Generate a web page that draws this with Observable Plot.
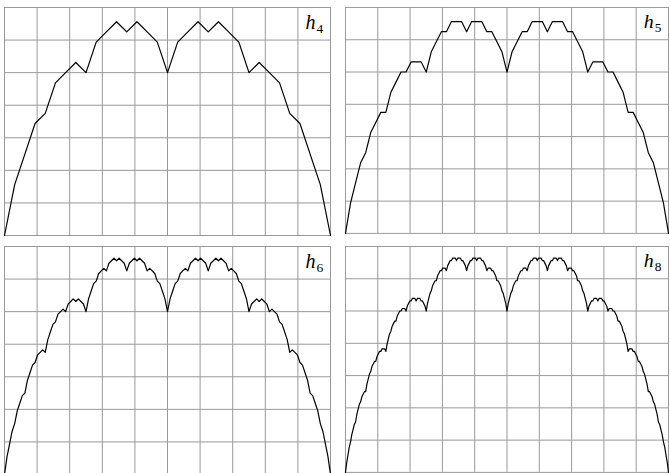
<!DOCTYPE html>
<html><head><meta charset="utf-8">
<script src="https://cdn.jsdelivr.net/npm/d3@7"></script>
<script src="https://cdn.jsdelivr.net/npm/@observablehq/plot@0.6"></script>
<style>
html,body{margin:0;padding:0;background:#fff;overflow:hidden}
#wrap{position:relative;width:670px;height:473px;overflow:hidden;background:#fff}
.panel{position:absolute}
.panel svg{display:block}
</style></head><body><div id="wrap"></div>
<script>
// grid tick values
const xTicks = [0, 0.1, 0.2, 0.3, 0.4, 0.5, 0.6, 0.7, 0.8, 0.9, 1];
const yTicks = [0, 0.1, 0.2, 0.3, 0.4, 0.5, 0.6, 0.7];

// panel labels
const labelLetter = "h";
const subscripts = ["4", "5", "6", "8"];

// curve heights, as numerators over the sample count (values read at x = k/denominator)
const denominators = [32, 64, 128, 256];

const h4 = [0,5,8,11,12,15,16,17,16,19,20,21,20,21,20,19,16,19,20,21,20,21,20,19,16,17,16,15,12,11,8,5,0];

const h5 = [0,6,10,14,16,20,22,24,24,28,30,32,32,34,34,34,32,36,38,40,40,42,42,42,40,42,42,42,40,40,38,36,32,
  36,38,40,40,42,42,42,40,42,42,42,40,40,38,36,32,34,34,34,32,32,30,28,24,24,22,20,16,14,10,6,0];

const h6 = [0,7,12,17,20,25,28,31,32,37,40,43,44,47,48,49,48,53,56,59,60,63,64,65,64,67,68,69,68,69,68,67,
  64,69,72,75,76,79,80,81,80,83,84,85,84,85,84,83,80,83,84,85,84,85,84,83,80,81,80,79,76,75,72,69,64,
  69,72,75,76,79,80,81,80,83,84,85,84,85,84,83,80,83,84,85,84,85,84,83,80,81,80,79,76,75,72,69,64,
  67,68,69,68,69,68,67,64,65,64,63,60,59,56,53,48,49,48,47,44,43,40,37,32,31,28,25,20,17,12,7,0];

const h8 = [0,8,14,20,24,30,34,38,40,46,50,54,56,60,62,64,64,70,74,78,80,84,86,88,88,92,94,96,96,98,98,98,
  96,102,106,110,112,116,118,120,120,124,126,128,128,130,130,130,128,132,134,136,136,138,138,138,136,138,138,138,136,136,134,132,
  128,134,138,142,144,148,150,152,152,156,158,160,160,162,162,162,160,164,166,168,168,170,170,170,168,170,170,170,168,168,166,164,
  160,164,166,168,168,170,170,170,168,170,170,170,168,168,166,164,160,162,162,162,160,160,158,156,152,152,150,148,144,142,138,134,
  128,
  134,138,142,144,148,150,152,152,156,158,160,160,162,162,162,160,164,166,168,168,170,170,170,168,170,170,170,168,168,166,164,160,
  164,166,168,168,170,170,170,168,170,170,170,168,168,166,164,160,162,162,162,160,160,158,156,152,152,150,148,144,142,138,134,128,
  132,134,136,136,138,138,138,136,138,138,138,136,136,134,132,128,130,130,130,128,128,126,124,120,120,118,116,112,110,106,102,96,
  98,98,98,96,96,94,92,88,88,86,84,80,78,74,70,64,64,62,60,56,54,50,46,40,38,34,30,24,20,14,8,0];

const series = [h4, h5, h6, h8];

// layout
const positions = [[2, 5], [343, 5], [2, 244], [343, 244]];
const wrap = document.getElementById("wrap");
const serifFont = "'Liberation Serif', 'DejaVu Serif', serif";

series.forEach((vals, i) => {
  const den = denominators[i];
  const rows = vals.map((v, k) => ({x: k / den, y: v / den}));
  const chart = Plot.plot({
    width: 330,
    height: 232,
    marginTop: 2, marginRight: 2, marginBottom: 2, marginLeft: 2,
    style: {fontFamily: serifFont},
    x: {domain: [0, 1], axis: null},
    y: {domain: [0, 0.7], axis: null},
    marks: [
      Plot.ruleX(xTicks, {stroke: "#999", strokeWidth: 1, strokeOpacity: 1}),
      Plot.ruleY(yTicks, {stroke: "#999", strokeWidth: 1, strokeOpacity: 1}),
      Plot.line(rows, {x: "x", y: "y", stroke: "#000", strokeWidth: 1.2}),
      Plot.text([labelLetter], {text: d => d, frameAnchor: "top-right", textAnchor: "start", lineAnchor: "bottom",
        dx: -25, dy: 21, fontStyle: "italic", fontSize: 20, fill: "#000"}),
      Plot.text([subscripts[i]], {text: d => d, frameAnchor: "top-right", textAnchor: "start", lineAnchor: "bottom",
        dx: -14, dy: 25, fontSize: 13.5, fill: "#000"})
    ]
  });
  const texts = d3.select(chart).selectAll("text");
  texts.style("font-family", serifFont);
  texts.filter((d, j) => j === 0).style("font-style", "italic");
  const div = document.createElement("div");
  div.className = "panel";
  div.style.left = positions[i][0] + "px";
  div.style.top = positions[i][1] + "px";
  div.appendChild(chart);
  wrap.appendChild(div);
});
</script></body></html>
